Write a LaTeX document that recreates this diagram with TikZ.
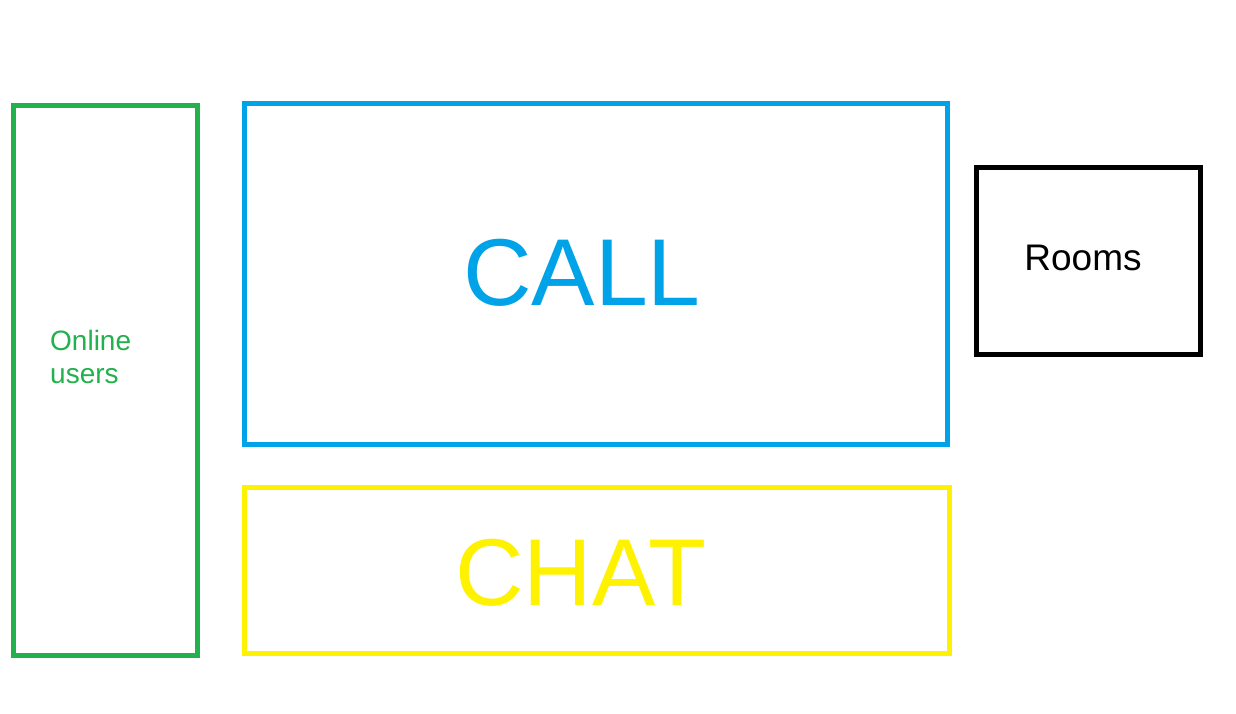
\documentclass[tikz,border=0pt]{standalone}
\usepackage{fontspec}
\setmainfont{Liberation Sans}
\definecolor{pgreen}{HTML}{22B14C}
\definecolor{pblue}{HTML}{00A2E8}
\definecolor{pyellow}{HTML}{FFF200}
\tikzset{
  panel/.style={draw=#1, line width=5pt, inner sep=0pt},
}
\begin{document}
\begin{tikzpicture}[x=1pt,y=-1pt]
\useasboundingbox[fill=white] (0,0) rectangle (1236,714);
\draw[panel=pgreen] (13.5,106) rectangle (197.5,655);
\draw[panel=pblue] (244,104) rectangle (947,444);
\draw[panel=pyellow] (244,487) rectangle (949,653);
\draw[panel=black] (976.5,167.5) rectangle (1200.5,354.5);
\node[anchor=base west, inner sep=0pt, text=pgreen, font=\fontsize{28}{33}\selectfont, align=left] (ulabel) at (50,383) {Online\\users};
\node[anchor=base, inner sep=0pt, text=pblue, font=\fontsize{95}{95}\selectfont] (call) at (582,305) {CALL};
\node[anchor=base, inner sep=0pt, text=pyellow, font=\fontsize{95}{95}\selectfont] (chat) at (581,605) {CHAT};
\node[anchor=base, inner sep=0pt, text=black, font=\fontsize{37}{37}\selectfont] (rooms) at (1083,270) {Rooms};
\end{tikzpicture}
\end{document}
